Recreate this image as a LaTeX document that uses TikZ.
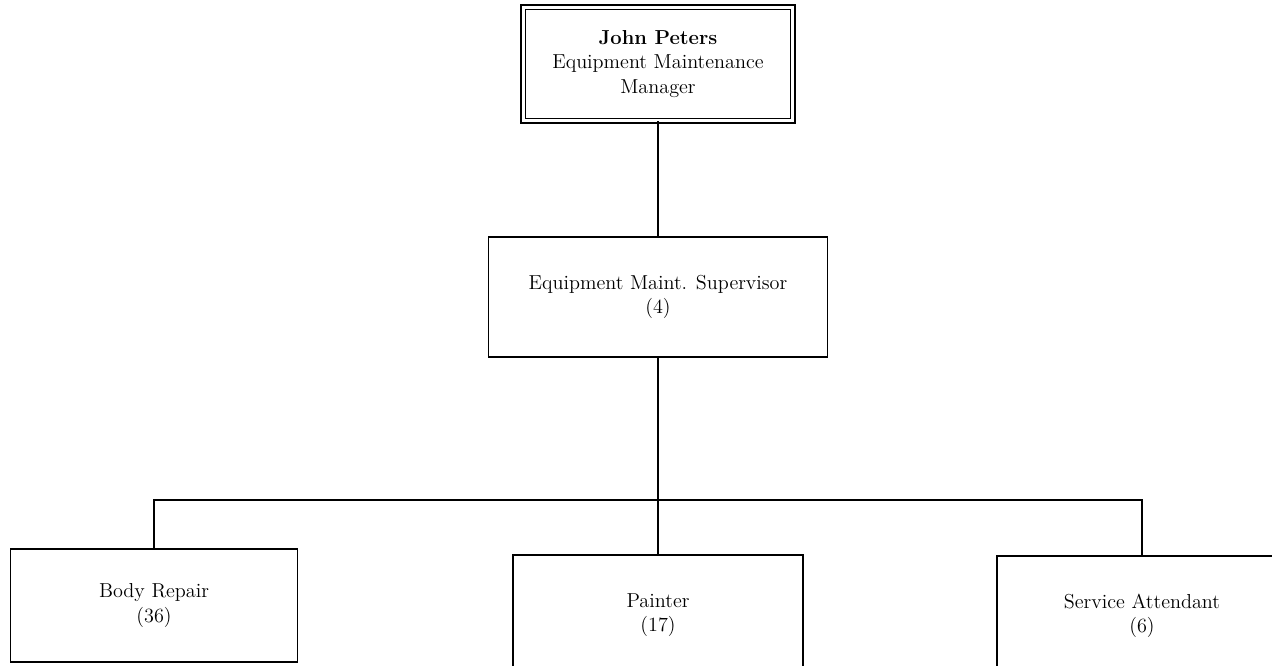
\documentclass[tikz,border=0pt]{standalone}
\usepackage{tikz}

\begin{document}
\begin{tikzpicture}[x=0.02cm,y=-0.02cm,line width=1pt,
  unit/.style={draw,align=center,inner sep=2pt,font=\fontsize{11.5}{13.7}\selectfont}]
\clip (0,0) rectangle (1272,666);

\node[unit,double,line width=0.8pt,double distance=1.6pt,minimum width=5.39cm,minimum height=2.27cm]
  (mgr) at (658,64) {\textbf{John Peters}\\Equipment Maintenance\\Manager};
\node[unit,minimum width=6.78cm,minimum height=2.4cm] (sup) at (658,297) {Equipment Maint. Supervisor\\(4)};

\node[unit,minimum width=5.74cm,minimum height=2.26cm] (body) at (154,605.5) {Body Repair\\(36)};
\node[unit,minimum width=5.8cm,minimum height=2.4cm] (paint) at (658,615) {Painter\\(17)};
\node[unit,minimum width=5.8cm,minimum height=2.4cm] (serv) at (1142,616) {Service Attendant\\(6)};

\coordinate (bus) at (658,500);
\draw (mgr.south) -- (sup.north);
\draw (sup.south) -- (paint.north);
\draw (bus) -| (body.north);
\draw (bus) -| (serv.north);
\end{tikzpicture}
\end{document}
